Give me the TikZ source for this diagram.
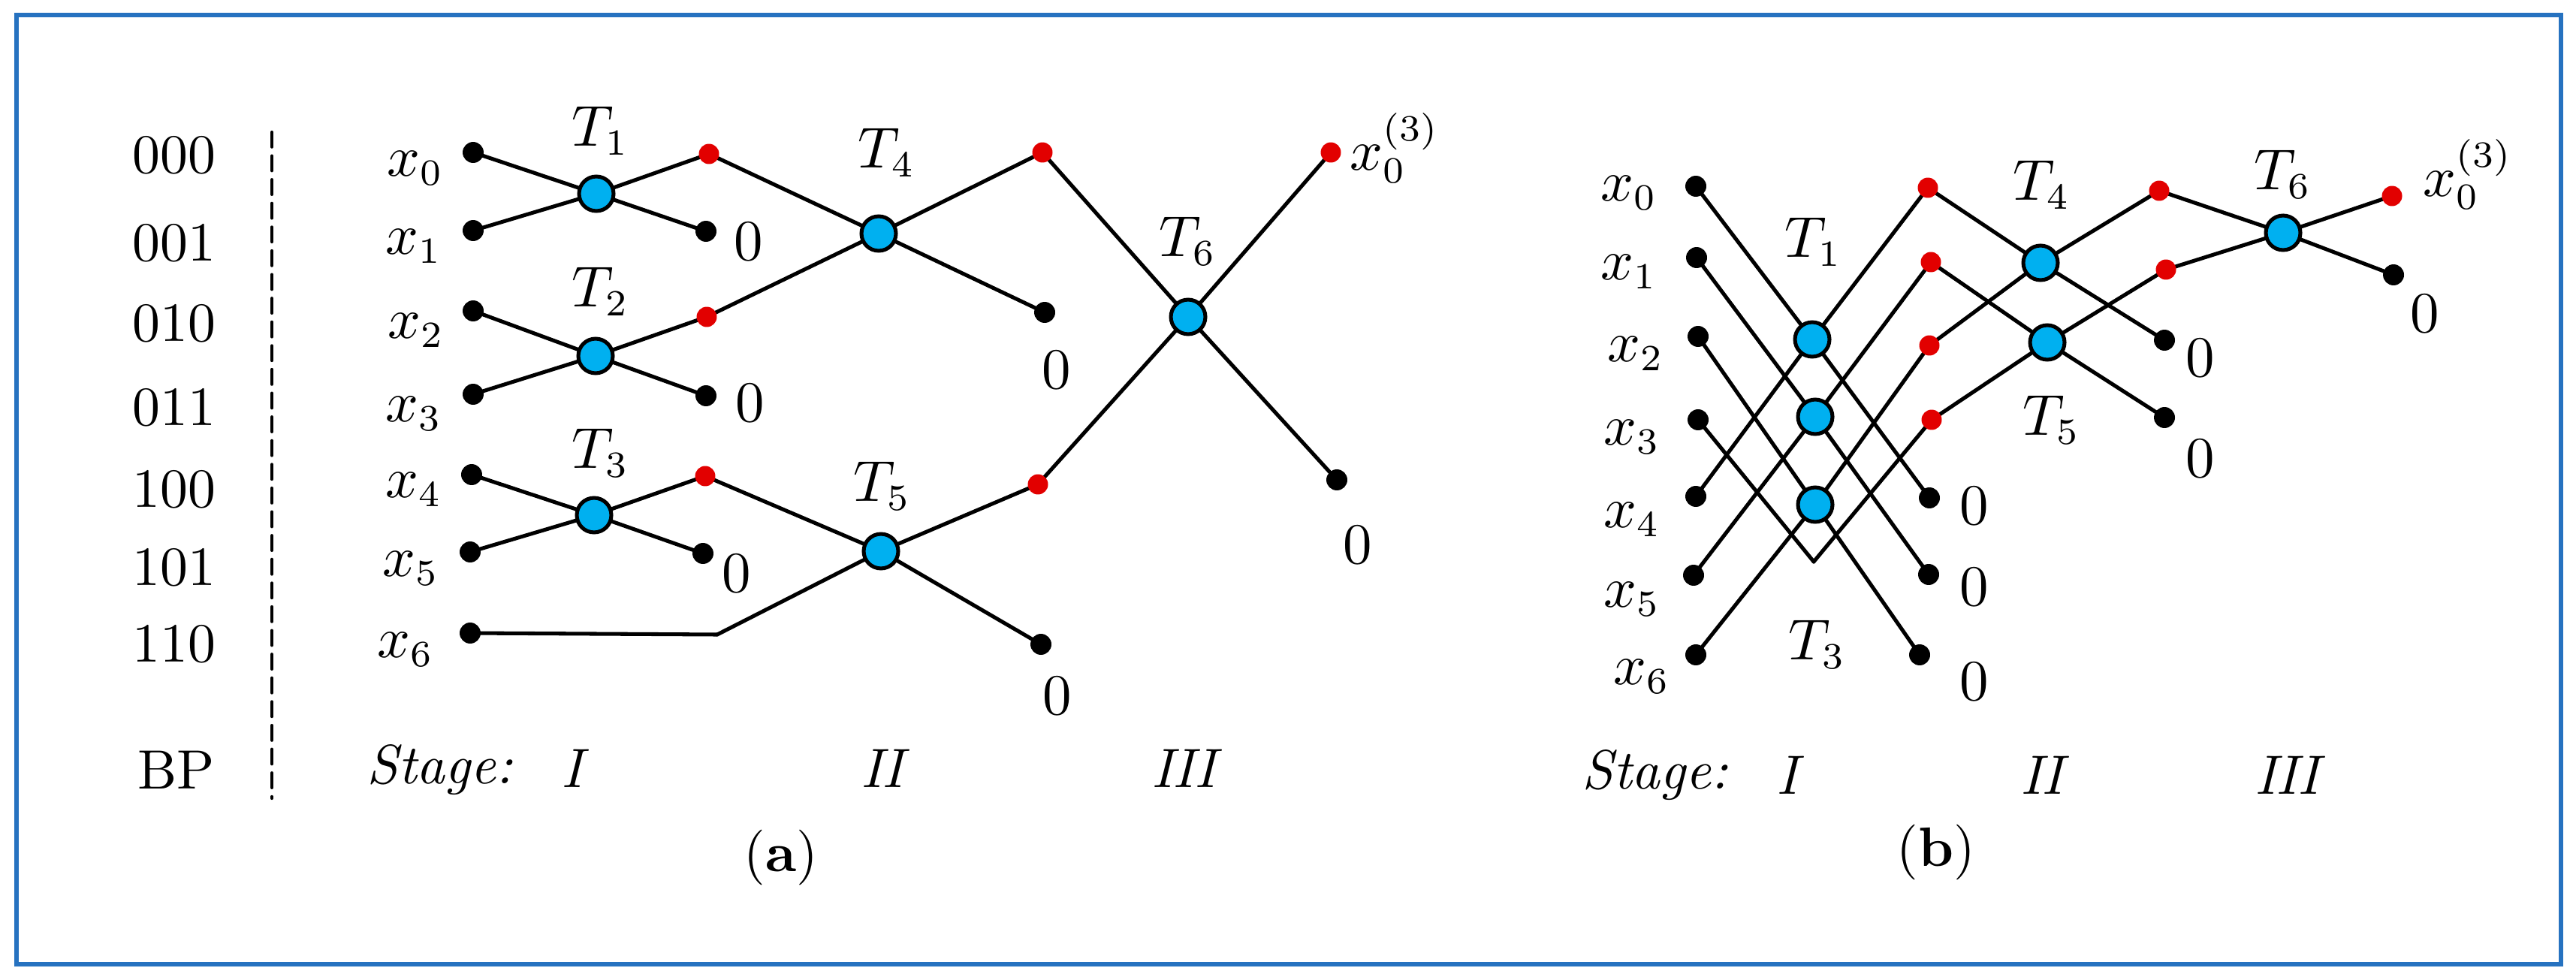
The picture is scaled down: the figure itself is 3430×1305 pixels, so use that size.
\documentclass[tikz,border=0pt]{standalone}
\usepackage{amsmath, amssymb}
\usepackage{tikz}
\usepackage{tkz-euclide}
\definecolor{frameblue}{RGB}{38,114,192}
\definecolor{bflycyan}{RGB}{0,176,240}
\definecolor{dotred}{RGB}{226,0,0}
\tikzset{
  wire/.style={line width=0.72pt, black},
  bfly/.style={circle, draw=black, line width=0.72pt, fill=bflycyan, minimum size=0.23cm, inner sep=0pt},
  dotblk/.style={circle, fill=black, minimum size=0.14cm, inner sep=0pt},
  dotrd/.style={circle, fill=dotred, minimum size=0.135cm, inner sep=0pt},
  lbl/.style={inner sep=0pt}
}

\begin{document}
\begin{tikzpicture}[x=0.005cm, y=-0.005cm, font=\fontsize{10.5}{12.6}\selectfont]
                \useasboundingbox (0,0) rectangle (3430,1305);
                \draw[frameblue, line width=0.8pt] (22,20) rectangle (3410,1284);
                % (a) points
                \tkzDefPoint(630,203){xa0} \tkzDefPoint(630,307){xa1}
                \tkzDefPoint(630,414){xa2} \tkzDefPoint(630,525){xa3}
                \tkzDefPoint(628,632){xa4} \tkzDefPoint(626,735){xa5}
                \tkzDefPoint(626,843){xa6} \tkzDefPoint(955,845){bend}
                \tkzDefPoint(794,258){Ta1} \tkzDefPoint(793,474){Ta2} \tkzDefPoint(791,686){Ta3}
                \tkzDefPoint(944,205){ra1} \tkzDefPoint(941,422){ra2} \tkzDefPoint(939,634){ra3}
                \tkzDefPoint(940,308){za1} \tkzDefPoint(940,527){za2} \tkzDefPoint(936,737){za3}
                \tkzDefPoint(1170,311){Ta4} \tkzDefPoint(1173,734){Ta5}
                \tkzDefPoint(1388,203){ra4} \tkzDefPoint(1382,645){ra5}
                \tkzDefPoint(1391,416){za4} \tkzDefPoint(1386,858){za5}
                \tkzDefPoint(1582,422){Ta6}
                \tkzDefPoint(1772,203){ra6} \tkzDefPoint(1780,639){za6}
                \tkzDefPoint(362,176){bpt} \tkzDefPoint(362,1063){bpb}
                % (b) points
                \tkzDefPoint(2258,248){xb0} \tkzDefPoint(2259,343){xb1}
                \tkzDefPoint(2261,448){xb2} \tkzDefPoint(2261,559){xb3}
                \tkzDefPoint(2258,661){xb4} \tkzDefPoint(2255,766){xb5}
                \tkzDefPoint(2258,872){xb6} \tkzDefPoint(2415,748){vee}
                \tkzDefPoint(2413,452){Tb1} \tkzDefPoint(2417,555){Tb2} \tkzDefPoint(2417,672){Tb3}
                \tkzDefPoint(2567,250){rb1} \tkzDefPoint(2571,349){rb2}
                \tkzDefPoint(2569,460){rb3} \tkzDefPoint(2572,559){rb4}
                \tkzDefPoint(2569,663){zb1} \tkzDefPoint(2568,765){zb2} \tkzDefPoint(2556,872){zb3}
                \tkzDefPoint(2717,350){Tb4} \tkzDefPoint(2726,456){Tb5}
                \tkzDefPoint(2875,254){rb5} \tkzDefPoint(2884,359){rb6}
                \tkzDefPoint(2882,453){zb4} \tkzDefPoint(2882,556){zb5}
                \tkzDefPoint(3040,310){Tb6}
                \tkzDefPoint(3185,261){rb7} \tkzDefPoint(3187,366){zb6}
                % wires
                \tkzDrawSegment[black, line width=0.6pt, dash pattern=on 2.8pt off 1.7pt](bpt,bpb)
                \tkzDrawSegments[wire](xa0,Ta1 Ta1,za1 xa1,Ta1 Ta1,ra1 xa2,Ta2 Ta2,za2 xa3,Ta2 Ta2,ra2
                    xa4,Ta3 Ta3,za3 xa5,Ta3 Ta3,ra3 ra1,Ta4 Ta4,za4 ra2,Ta4 Ta4,ra4
                    ra3,Ta5 Ta5,za5 xa6,bend bend,Ta5 Ta5,ra5 ra4,Ta6 Ta6,za6 ra5,Ta6 Ta6,ra6)
                \tkzDrawSegments[wire](xb0,Tb1 Tb1,zb1 xb4,Tb1 Tb1,rb1 xb1,Tb2 Tb2,zb2 xb5,Tb2 Tb2,rb2
                    xb2,Tb3 Tb3,zb3 xb6,Tb3 Tb3,rb3 xb3,vee vee,rb4
                    rb1,Tb4 Tb4,zb4 rb3,Tb4 Tb4,rb5 rb2,Tb5 Tb5,zb5 rb4,Tb5 Tb5,rb6
                    rb5,Tb6 Tb6,zb6 rb6,Tb6 Tb6,rb7)
                % dots and butterflies
                \foreach \p in {xa0,xa1,xa2,xa3,xa4,xa5,xa6,za1,za2,za3,za4,za5,za6,
                    xb0,xb1,xb2,xb3,xb4,xb5,xb6,zb1,zb2,zb3,zb4,zb5,zb6}
                    \node[dotblk] (d\p) at (\p) {};
                \foreach \p in {ra1,ra2,ra3,ra4,ra5,ra6,rb1,rb2,rb3,rb4,rb5,rb6,rb7}
                    \node[dotrd] (d\p) at (\p) {};
                \foreach \p in {Ta1,Ta2,Ta3,Ta4,Ta5,Ta6,Tb1,Tb2,Tb3,Tb4,Tb5,Tb6}
                    \node[bfly] (n\p) at (\p) {};
                % (a) labels
                \node[lbl] (bp0) at (232,207) {000};
                \node[lbl] (bp1) at (232,324) {001};
                \node[lbl] (bp2) at (232,431) {010};
                \node[lbl] (bp3) at (232,543) {011};
                \node[lbl] (bp4) at (232,652) {100};
                \node[lbl] (bp5) at (232,756) {101};
                \node[lbl] (bp6) at (232,858) {110};
                \node[lbl] (bpl) at (235,1025) {BP};
                \node[lbl] (lxa0) at (553,224) {$x_0$};
                \node[lbl] (lxa1) at (551,328) {$x_1$};
                \node[lbl] (lxa2) at (554,440) {$x_2$};
                \node[lbl] (lxa3) at (551,551) {$x_3$};
                \node[lbl] (lxa4) at (551,652) {$x_4$};
                \node[lbl] (lxa5) at (547,757) {$x_5$};
                \node[lbl] (lxa6) at (540,865) {$x_6$};
                \node[lbl] (lTa1) at (800,174) {$T_1$};
                \node[lbl] (lTa2) at (800,388) {$T_2$};
                \node[lbl] (lTa3) at (800,603) {$T_3$};
                \node[lbl] (lTa4) at (1181,203) {$T_4$};
                \node[lbl] (lTa5) at (1175,647) {$T_5$};
                \node[lbl] (lTa6) at (1582,321) {$T_6$};
                \node[lbl] (lza1) at (997,322) {$0$};
                \node[lbl] (lza2) at (999,537) {$0$};
                \node[lbl] (lza3) at (981,764) {$0$};
                \node[lbl] (lza4) at (1407,493) {$0$};
                \node[lbl] (lza5) at (1408,927) {$0$};
                \node[lbl] (lza6) at (1808,726) {$0$};
                \node[lbl] (lra6) at (1857,197) {$x_0^{(3)}$};
                \node[lbl] (sta) at (586,1025) {\textit{Stage:}};
                \node[lbl] (sta1) at (766,1023) {\textit{I}};
                \node[lbl] (sta2) at (1179,1023) {\textit{II}};
                \node[lbl] (sta3) at (1580,1023) {\textit{III}};
                \node[lbl] (capa) at (1040,1142) {(\textbf{a})};
                % (b) labels
                \node[lbl] (lxb0) at (2169,257) {$x_0$};
                \node[lbl] (lxb1) at (2169,362) {$x_1$};
                \node[lbl] (lxb2) at (2178,471) {$x_2$};
                \node[lbl] (lxb3) at (2173,582) {$x_3$};
                \node[lbl] (lxb4) at (2173,692) {$x_4$};
                \node[lbl] (lxb5) at (2173,798) {$x_5$};
                \node[lbl] (lxb6) at (2186,901) {$x_6$};
                \node[lbl] (lTb1) at (2415,322) {$T_1$};
                \node[lbl] (lTb3) at (2420,858) {$T_3$};
                \node[lbl] (lTb4) at (2719,246) {$T_4$};
                \node[lbl] (lTb5) at (2732,559) {$T_5$};
                \node[lbl] (lTb6) at (3040,232) {$T_6$};
                \node[lbl] (lzb1) at (2629,674) {$0$};
                \node[lbl] (lzb2) at (2629,782) {$0$};
                \node[lbl] (lzb3) at (2629,908) {$0$};
                \node[lbl] (lzb4) at (2930,477) {$0$};
                \node[lbl] (lzb5) at (2930,611) {$0$};
                \node[lbl] (lzb6) at (3229,418) {$0$};
                \node[lbl] (lrb7) at (3286,232) {$x_0^{(3)}$};
                \node[lbl] (stb) at (2204,1032) {\textit{Stage:}};
                \node[lbl] (stb1) at (2384,1032) {\textit{I}};
                \node[lbl] (stb2) at (2723,1032) {\textit{II}};
                \node[lbl] (stb3) at (3049,1032) {\textit{III}};
                \node[lbl] (capb) at (2578,1135) {(\textbf{b})};
\end{tikzpicture}
\end{document}
